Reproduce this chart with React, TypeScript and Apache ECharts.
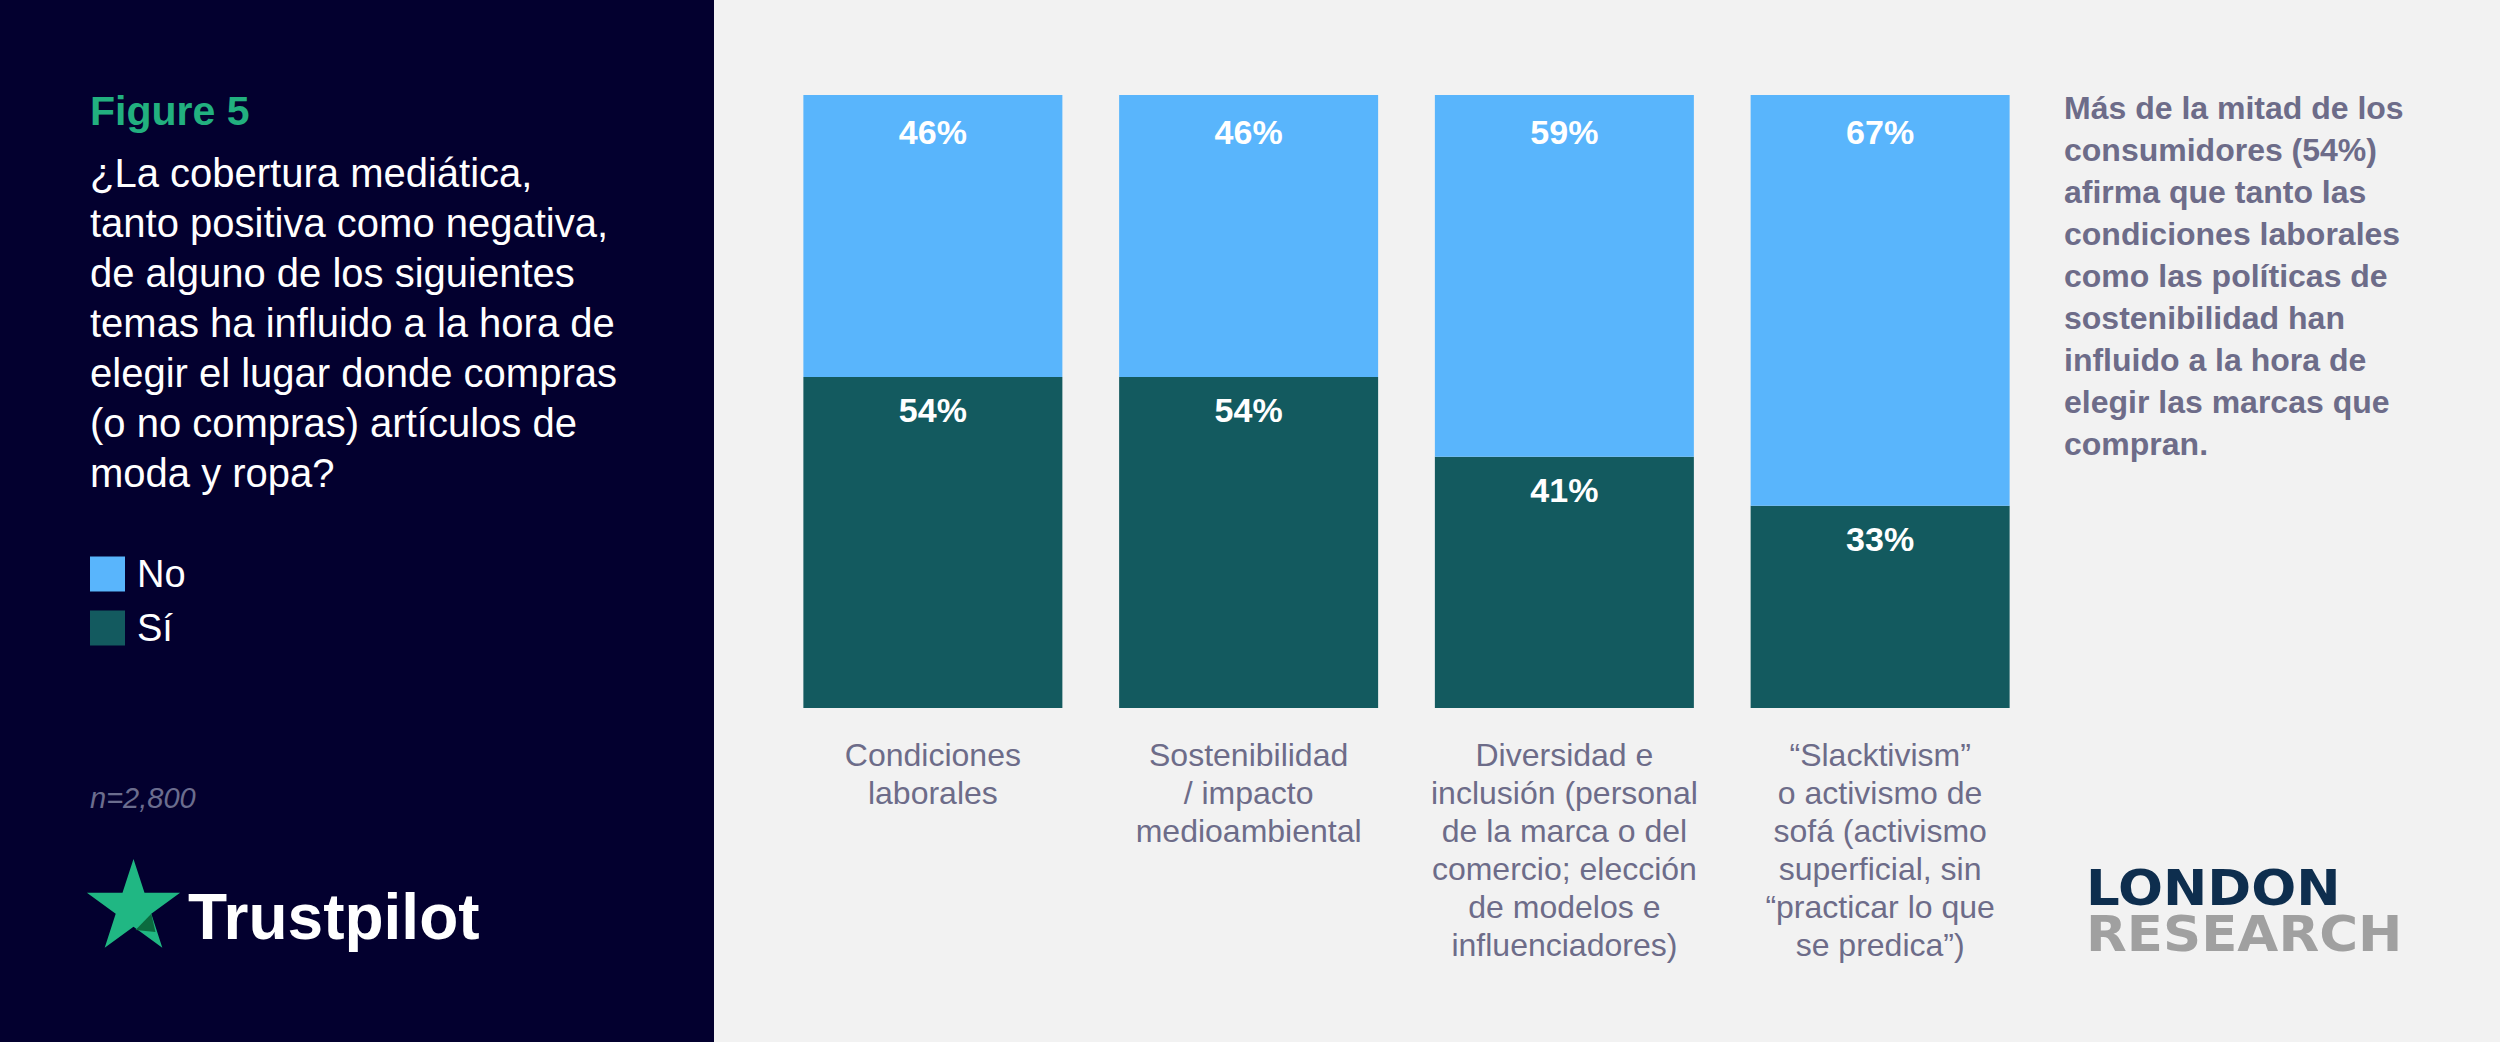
import React, { useEffect, useRef } from "react";
import * as echarts from "echarts";

const categories = [
  "Condiciones\nlaborales",
  "Sostenibilidad\n/ impacto\nmedioambiental",
  "Diversidad e\ninclusión (personal\nde la marca o del\ncomercio; elección\nde modelos e\ninfluenciadores)",
  "“Slacktivism”\no activismo de\nsofá (activismo\nsuperficial, sin\n“practicar lo que\nse predica”)",
];
const siValues = [54, 54, 41, 33];
const noValues = [46, 46, 59, 67];
const seriesNames = ["No", "Sí"];

const FONT = "'Liberation Sans', Arial, Helvetica, sans-serif";
const GRAY = "#6d6c89";

function starPoints(cx: number, cy: number, R: number, r: number) {
  const pts: number[][] = [];
  for (let i = 0; i < 10; i++) {
    const ang = ((-90 + i * 36) * Math.PI) / 180;
    const rad = i % 2 === 0 ? R : r;
    pts.push([cx + rad * Math.cos(ang), cy + rad * Math.sin(ang)]);
  }
  return pts;
}

export default function App() {
  const ref = useRef<HTMLDivElement>(null);
  useEffect(() => {
    if (!ref.current) return;
    const chart = echarts.init(ref.current, undefined, { renderer: "svg" });
    const cx = 133.5, cy = 908, R = 49, r = 49 * 0.382;
    const inner18 = [cx + r * Math.cos((18 * Math.PI) / 180), cy + r * Math.sin((18 * Math.PI) / 180)];
    chart.setOption({
      animation: false,
      backgroundColor: "#f2f2f2",
      grid: { left: 775, top: 95, width: 1263, height: 613 },
      xAxis: {
        type: "category",
        data: categories,
        axisLine: { show: false },
        axisTick: { show: false },
        axisLabel: {
          interval: 0,
          color: GRAY,
          fontSize: 32,
          lineHeight: 38,
          margin: 28,
          fontFamily: FONT,
        },
      },
      yAxis: { type: "value", min: 0, max: 100, show: false, splitLine: { show: false } },
      legend: {
        data: [
          { name: seriesNames[0], icon: "rect" },
          { name: seriesNames[1], icon: "rect" },
        ],
        orient: "vertical",
        left: 90,
        top: 555,
        padding: 0,
        itemWidth: 35,
        itemHeight: 35,
        itemGap: 16,
        selectedMode: false,
        textStyle: { color: "#ffffff", fontSize: 38, fontFamily: FONT, padding: [0, 0, 0, 7] },
      },
      series: [
        {
          name: seriesNames[1],
          type: "bar",
          stack: "total",
          data: siValues,
          barWidth: 259,
          itemStyle: { color: "#135a5f" },
          label: {
            show: true,
            position: "insideTop",
            distance: 16,
            formatter: "{c}%",
            color: "#ffffff",
            fontSize: 34,
            fontWeight: "bold",
            fontFamily: FONT,
          },
        },
        {
          name: seriesNames[0],
          type: "bar",
          stack: "total",
          data: noValues,
          barWidth: 259,
          itemStyle: { color: "#59b5fc" },
          label: {
            show: true,
            position: "insideTop",
            distance: 20,
            formatter: "{c}%",
            color: "#ffffff",
            fontSize: 34,
            fontWeight: "bold",
            fontFamily: FONT,
          },
        },
      ],
      graphic: [
        { type: "rect", z: -10, shape: { x: 0, y: 0, width: 714, height: 1042 }, style: { fill: "#03002f" } },
        {
          type: "text", x: 90, y: 111,
          style: { text: "Figure 5", fontSize: 41, fontWeight: "bold", fontFamily: FONT, fill: "#22b07f", verticalAlign: "middle" },
        },
        {
          type: "text", x: 90, y: 148,
          style: {
            text: "¿La cobertura mediática,\ntanto positiva como negativa,\nde alguno de los siguientes\ntemas ha influido a la hora de\nelegir el lugar donde compras\n(o no compras) artículos de\nmoda y ropa?",
            fontSize: 40, lineHeight: 50, fontFamily: FONT, fill: "#ffffff", verticalAlign: "top",
          },
        },
        {
          type: "text", x: 90, y: 798,
          style: { text: "n=2,800", fontSize: 29, fontStyle: "italic", fontFamily: FONT, fill: "#6b6d8e", verticalAlign: "middle" },
        },
        { type: "polygon", shape: { points: starPoints(cx, cy, R, r) }, style: { fill: "#20b783" } },
        { type: "polygon", shape: { points: [inner18, [cx + 22, cy + 24], [cx + 2, cy + 22]] }, style: { fill: "#0b6b3f" } },
        {
          type: "text", x: 188, y: 917,
          style: { text: "Trustpilot", fontSize: 64, fontWeight: "bold", fontFamily: FONT, fill: "#ffffff", verticalAlign: "middle" },
        },
        {
          type: "text", x: 2064, y: 87,
          style: {
            text: "Más de la mitad de los\nconsumidores (54%)\nafirma que tanto las\ncondiciones laborales\ncomo las políticas de\nsostenibilidad han\ninfluido a la hora de\nelegir las marcas que\ncompran.",
            fontSize: 32, lineHeight: 42, fontWeight: "bold", fontFamily: FONT, fill: GRAY, verticalAlign: "top",
          },
        },
        {
          type: "text", x: 2086, y: 888, scaleX: 1.06,
          style: { text: "LONDON", fontSize: 50, fontWeight: "bold", fontFamily: "'DejaVu Sans', sans-serif", fill: "#0e2e4e", verticalAlign: "middle" },
        },
        {
          type: "text", x: 2086, y: 934, scaleX: 1.06,
          style: { text: "RESEARCH", fontSize: 50, fontWeight: "bold", fontFamily: "'DejaVu Sans', sans-serif", fill: "#a0a0a0", verticalAlign: "middle" },
        },
      ],
    });
    return () => chart.dispose();
  }, []);
  return <div ref={ref} style={{ position: "fixed", left: 0, top: 0, width: 2500, height: 1042 }} />;
}
